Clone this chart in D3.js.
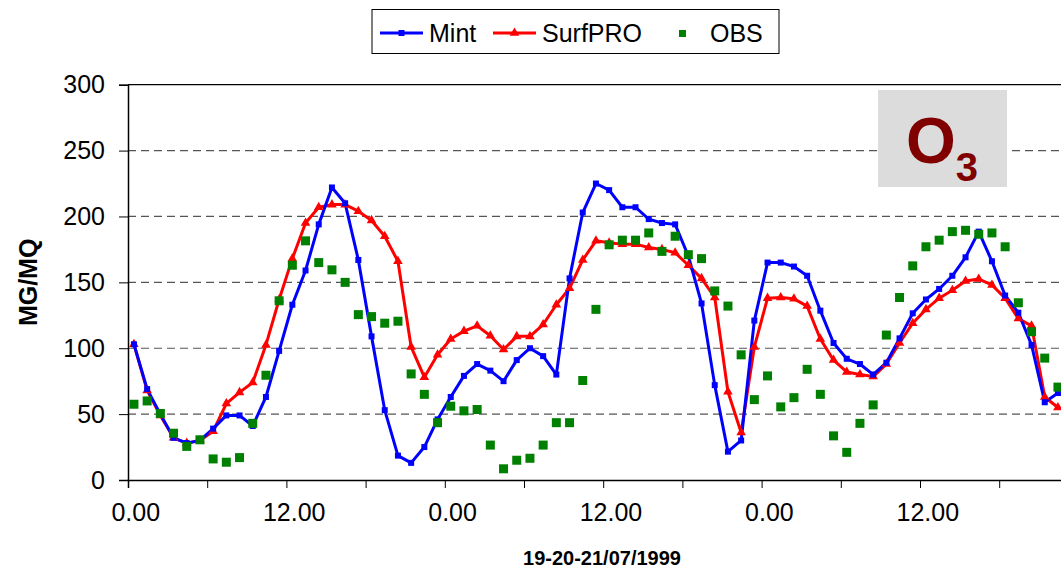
<!DOCTYPE html>
<html>
<head>
<meta charset="utf-8">
<script src="https://cdn.jsdelivr.net/npm/d3@7"></script>
<style>
  html, body { margin: 0; padding: 0; background: #fff; }
  svg { display: block; font-family: "Liberation Sans", Arial, sans-serif; }
</style>
</head>
<body>
<div id="chart"></div>
<script>
// hourly values, 19-21/07/1999 (hour index 0..70)
const mint = [103, 69, 50, 32, 28, 30, 39, 49, 49, 41, 63, 98, 133, 159, 194, 222, 210, 167, 109, 53,
    18.5, 13, 25, 46, 63, 79, 88, 83, 75, 91, 100, 94, 80, 153, 203, 225, 220, 207, 207, 198,
    195, 194, 170, 134, 72, 21.5, 30, 121, 165, 165, 162, 155, 128.5, 104, 92, 88, 80, 89, 107.5, 126.5,
    137, 145, 155, 169, 188.5, 166, 140, 127, 102.5, 59, 66];
const surfpro = [103, 68, 49, 32, 28, 30, 37, 58, 66.5, 74, 102.5, 137, 168, 195, 207, 209, 209, 204, 197, 185,
    166, 101, 78, 95, 107, 113, 117, 109.5, 99, 109, 109, 118, 133, 145.5, 167, 181.5, 180, 179, 179, 176.5,
    175, 172.5, 163, 153, 138.5, 67, 36, 101, 138, 138.5, 137.5, 132, 107, 91, 82, 80, 78.5, 88, 104, 119,
    129.5, 138, 144, 151, 152.5, 148, 138, 122.5, 117, 63, 55];
const obs = [57.5, 60, 50.5, 35.5, 25.5, 30.5, 16, 13.5, 17, 43, 79.5, 136, 163, 181.5, 165, 159.5, 150, 125.5, 124, 119,
    120.5, 80.5, 65, 43.5, 56, 52.5, 53.5, 26.5, 8.5, 15, 16.5, 26.5, 43.5, 43.5, 75.5, 129.5, 178.5, 182, 182, 187.5,
    173.5, 185, 171, 168, 143.5, 132, 95, 61, 79, 55.5, 62.5, 84, 65, 33.5, 21, 43, 57, 110, 138.5, 162.5,
    177, 182, 188.5, 189.5, 186.5, 187.5, 177, 134.5, 112.5, 92.5, 70.5];
const nHours = 72;
const xTickLabels = ['0.00', '12.00', '0.00', '12.00', '0.00', '12.00'];
const yTicks = [0, 50, 100, 150, 200, 250, 300];

const width = 1061, height = 569;
const margin = { top: 84.7, left: 128, bottom: 89 };
const hourW = 13.2;

const svg = d3.select('#chart').append('svg')
    .attr('width', width).attr('height', height);

const x = d3.scaleLinear().domain([0, nHours]).range([margin.left, margin.left + nHours * hourW]);
const y = d3.scaleLinear().domain([0, 300]).range([height - margin.bottom, margin.top]);
const cx = (i) => x(i + 0.45);

// gridlines
svg.append('g').selectAll('line').data(yTicks.filter((d) => d > 0 && d < 300)).enter().append('line')
    .attr('x1', x(0)).attr('x2', width)
    .attr('y1', (d) => y(d)).attr('y2', (d) => y(d))
    .attr('stroke', '#555').attr('stroke-width', 1.2).attr('stroke-dasharray', '8,5');
// plot area top border
svg.append('line').attr('x1', x(0)).attr('x2', width).attr('y1', y(300)).attr('y2', y(300))
    .attr('stroke', '#000').attr('stroke-width', 1.3);

// Y axis
const yAxis = svg.append('g').attr('transform', `translate(${x(0)},0)`)
    .call(d3.axisLeft(y).tickValues(yTicks).tickSize(9).tickPadding(14));
yAxis.select('.domain').attr('stroke', '#000').attr('stroke-width', 1.5);
yAxis.selectAll('.tick line').attr('stroke', '#000');
yAxis.selectAll('text').style('font-size', '25px').attr('fill', '#000');

// X axis: tick marks every 6 hours, labels centred in the 0h/12h slots
const xAxis = svg.append('g').attr('transform', `translate(0,${y(0)})`)
    .call(d3.axisBottom(x).tickValues(d3.range(0, nHours + 1, 6)).tickSize(8).tickFormat(''));
xAxis.select('.domain').attr('stroke', '#000').attr('stroke-width', 1.5);
xAxis.selectAll('.tick line').attr('stroke', '#000');
const xLab = svg.append('g').attr('transform', `translate(0,${y(0)})`)
    .call(d3.axisBottom(x).tickValues(xTickLabels.map((_, i) => i * 12 + 0.55))
        .tickSize(0).tickPadding(23).tickFormat((_, i) => xTickLabels[i]));
xLab.select('.domain').remove();
xLab.selectAll('text').style('font-size', '25px').attr('fill', '#000');

// axis titles
svg.append('text').attr('transform', `translate(37,${y(150)}) rotate(-90)`)
    .attr('text-anchor', 'middle')
    .style('font-size', '25px').style('font-weight', 'bold').text('MG/MQ');
svg.append('text').attr('x', 602).attr('y', 565)
    .attr('text-anchor', 'middle')
    .style('font-size', '20px').style('font-weight', 'bold').text('19-20-21/07/1999');

// series
const line = d3.line().x((d, i) => cx(i)).y((d) => y(d));
const tri = d3.symbol().type(d3.symbolTriangle).size(40);

svg.append('path').datum(surfpro).attr('d', line)
    .attr('fill', 'none').attr('stroke', '#ff0000').attr('stroke-width', 3).attr('stroke-linejoin', 'round');
svg.append('path').datum(mint).attr('d', line)
    .attr('fill', 'none').attr('stroke', '#0000ff').attr('stroke-width', 3).attr('stroke-linejoin', 'round');

svg.append('g').selectAll('path').data(surfpro).enter().append('path')
    .attr('d', tri).attr('fill', '#ff0000')
    .attr('transform', (d, i) => `translate(${cx(i)},${y(d)})`);
svg.append('g').selectAll('rect').data(mint).enter().append('rect')
    .attr('x', (d, i) => cx(i) - 3).attr('y', (d) => y(d) - 3)
    .attr('width', 6).attr('height', 6).attr('fill', '#0000ff');
svg.append('g').selectAll('rect').data(obs).enter().append('rect')
    .attr('x', (d, i) => cx(i) - 4.5).attr('y', (d) => y(d) - 4.5)
    .attr('width', 9).attr('height', 9).attr('fill', '#008000');

// O3 label
const badge = svg.append('g');
badge.append('rect').attr('x', 878).attr('y', 90).attr('width', 129).attr('height', 97).attr('fill', '#dcdcdc');
const o3 = badge.append('text').attr('x', 942).attr('y', 163).attr('text-anchor', 'middle')
    .attr('fill', '#800000').style('font-weight', 'bold');
o3.append('tspan').style('font-size', '64px').text('O');
o3.append('tspan').style('font-size', '40px').attr('dy', 18).text('3');

// legend
const legend = svg.append('g');
legend.append('rect').attr('x', 372).attr('y', 9.5).attr('width', 407).attr('height', 44)
    .attr('fill', '#fff').attr('stroke', '#000').attr('stroke-width', 1);
const lg = [
    { name: 'Mint', color: '#0000ff', x0: 380, tx: 429, mark: 'square' },
    { name: 'SurfPRO', color: '#ff0000', x0: 493, tx: 542, mark: 'tri' },
    { name: 'OBS', color: '#008000', x0: null, tx: 710, mark: 'obs' },
];
lg.forEach((d) => {
    if (d.x0 !== null) {
        legend.append('line').attr('x1', d.x0).attr('x2', d.x0 + 43).attr('y1', 33).attr('y2', 33)
            .attr('stroke', d.color).attr('stroke-width', 3);
    }
    if (d.mark === 'square') {
        legend.append('rect').attr('x', d.x0 + 18.5).attr('y', 30).attr('width', 6).attr('height', 6).attr('fill', d.color);
    } else if (d.mark === 'tri') {
        legend.append('path').attr('d', tri).attr('fill', d.color).attr('transform', `translate(${d.x0 + 21.5},33)`);
    } else {
        legend.append('rect').attr('x', 679).attr('y', 30).attr('width', 7).attr('height', 7).attr('fill', d.color);
    }
    legend.append('text').attr('x', d.tx).attr('y', 42).style('font-size', '25px').text(d.name);
});
</script>
</body>
</html>
